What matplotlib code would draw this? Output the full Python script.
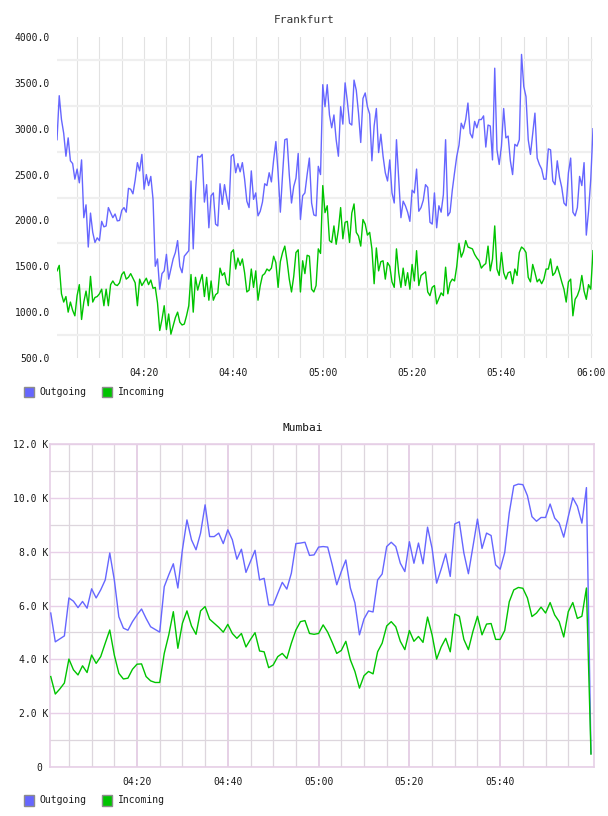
import matplotlib
matplotlib.use("Agg")
import matplotlib.pyplot as plt
import matplotlib.dates as mdates
from matplotlib.ticker import FixedLocator, FuncFormatter
from matplotlib.patches import Rectangle
import pandas as pd

plt.rcParams['font.family'] = ['DejaVu Sans Mono']

titles = ["Frankfurt", "Mumbai"]
series_names = ["Outgoing", "Incoming"]
series_colors = ["#6666ff", "#00c400"]

frankfurt_start = "2024-01-01 04:00:30"
frankfurt_step = "30s"
frankfurt_outgoing = [
    2880, 3360, 3100, 2950, 2700, 2900, 2650, 2620, 2450, 2560,
    2410, 2660, 2030, 2170, 1710, 2080, 1870, 1760, 1810, 1780,
    1990, 1930, 1940, 2140, 2085, 2030, 2070, 1995, 2000, 2110,
    2140, 2090, 2350, 2340, 2290, 2440, 2630, 2540, 2720, 2340,
    2500, 2380, 2480, 2230, 1500, 1580, 1250, 1420, 1450, 1630,
    1360, 1470, 1580, 1650, 1780, 1500, 1430, 1610, 1640, 1670,
    2430, 1690, 2300, 2700, 2690, 2720, 2200, 2390, 1920, 2270,
    2300, 1960, 1940, 2400, 2175, 2390, 2250, 2120, 2700, 2720,
    2520, 2620, 2530, 2630, 2450, 2210, 2140, 2540, 2230, 2300,
    2050, 2100, 2200, 2400, 2380, 2520, 2420, 2660, 2860, 2520,
    2090, 2500, 2880, 2890, 2500, 2190, 2370, 2460, 2730, 2010,
    2270, 2300, 2500, 2680, 2190, 2060, 2050, 2590, 2500, 3480,
    3240, 3480, 3150, 3010, 3150, 2880, 2700, 3240, 3050, 3500,
    3300, 3060, 3040, 3530, 3420, 3170, 2850, 3330, 3390, 3240,
    3160, 2650, 3030, 3220, 2740, 2940, 2700, 2520, 2430, 2660,
    2300, 2190, 2880, 2450, 2030, 2210, 2160, 2090, 1990, 2330,
    2300, 2560, 2100, 2140, 2220, 2390, 2360, 1980, 1960, 2300,
    1920, 2160, 2090, 2280, 2880, 2050, 2090, 2330, 2520, 2700,
    2820, 3060, 3000, 3100, 3280, 2950, 2900, 3080, 3010, 3100,
    3100, 3140, 2800, 3040, 3030, 2660, 3660, 2770, 2610, 2810,
    3220, 2900, 2920, 2650, 2500, 2830, 2810, 2880, 3810, 3460,
    3350, 2880, 2720, 2950, 3170, 2680, 2610, 2560, 2450, 2450,
    2780, 2770, 2430, 2390, 2650, 2470, 2360, 2190, 2160, 2520,
    2680, 2090, 2050, 2140, 2480, 2380, 2630, 1840, 2100, 2450,
    3000,
]
frankfurt_incoming = [
    1450, 1510, 1200, 1110, 1170, 1000, 1110, 1020, 960, 1180,
    1300, 920, 1110, 1230, 1070, 1390, 1110, 1160, 1170, 1200,
    1250, 1070, 1250, 1070, 1300, 1340, 1300, 1290, 1320, 1410,
    1440, 1360, 1380, 1420, 1370, 1320, 1070, 1360, 1290, 1330,
    1370, 1300, 1350, 1260, 1270, 1100, 800, 920, 1070, 810,
    980, 760, 850, 940, 1000, 890, 860, 870, 960, 1070,
    1410, 1000, 1380, 1240, 1330, 1410, 1170, 1380, 1130, 1340,
    1130, 1190, 1210, 1480, 1400, 1430, 1310, 1290, 1650, 1680,
    1470, 1590, 1510, 1580, 1430, 1220, 1240, 1470, 1270, 1450,
    1130, 1290, 1400, 1420, 1470, 1450, 1480, 1610, 1540, 1270,
    1550, 1650, 1720, 1560, 1360, 1220, 1390, 1650, 1680, 1220,
    1560, 1420, 1620, 1610, 1250, 1220, 1290, 1690, 1640, 2380,
    2085, 2160, 1780, 1760, 1940, 1740, 1900, 2140, 1800, 1980,
    1990, 1760, 2080, 2180, 1870, 1830, 1720, 2010, 1960, 1840,
    1870, 1690, 1310, 1700, 1450, 1550, 1560, 1360, 1540, 1500,
    1330, 1270, 1690, 1430, 1270, 1480, 1290, 1430, 1250, 1520,
    1340, 1670, 1290, 1400, 1420, 1440, 1220, 1180, 1270, 1290,
    1090, 1150, 1210, 1180, 1490, 1200, 1320, 1360, 1340, 1500,
    1750, 1600, 1660, 1780, 1710, 1700, 1690, 1630, 1590, 1560,
    1480, 1510, 1530, 1720, 1450, 1580, 1940, 1470, 1400, 1650,
    1430, 1360, 1430, 1440, 1310, 1470, 1400, 1650, 1710, 1690,
    1650, 1380, 1330, 1520, 1430, 1330, 1360, 1310, 1360, 1470,
    1470, 1580, 1400, 1430, 1500, 1420, 1330, 1250, 1110, 1330,
    1360, 960, 1140, 1180, 1250, 1400, 1230, 1140, 1300, 1250,
    1670,
]
frankfurt_yticks = [500, 1000, 1500, 2000, 2500, 3000, 3500, 4000]
frankfurt_ygrid = [750, 1250, 1750, 2250, 2750, 3250, 3750]

mumbai_start = "2024-01-01 04:01:00"
mumbai_step = "1min"
mumbai_outgoing = [
    5720, 4650, 4760, 4870, 6280, 6160, 5920, 6150, 5900, 6620,
    6280, 6580, 6950, 7950, 6950, 5580, 5160, 5080, 5400, 5650,
    5870, 5520, 5210, 5110, 5010, 6700, 7140, 7550, 6650, 8070,
    9180, 8440, 8070, 8690, 9740, 8560, 8560, 8690, 8300, 8810,
    8440, 7720, 8090, 7230, 7640, 8050, 6950, 7010, 6020, 6020,
    6450, 6860, 6610, 7200, 8300, 8320, 8350, 7860, 7880, 8170,
    8190, 8170, 7510, 6770, 7260, 7690, 6650, 6100, 4910, 5500,
    5800, 5760, 6950, 7170, 8190, 8350, 8190, 7570, 7260, 8370,
    7570, 8320, 7550, 8910, 8120, 6830, 7350, 7920, 7080, 9030,
    9110, 7950, 7180, 8190, 9210, 8120, 8690, 8600, 7510, 7350,
    7970, 9440, 10450, 10510, 10490, 10080, 9300, 9130, 9270, 9270,
    9770, 9250, 9060, 8540, 9300, 10000, 9690, 9060, 10380, 500,
]
mumbai_incoming = [
    3360, 2710, 2900, 3120, 4010, 3610, 3420, 3760, 3510, 4160,
    3850, 4100, 4600, 5090, 4160, 3480, 3270, 3300, 3630, 3820,
    3830, 3360, 3200, 3140, 3140, 4220, 4910, 5770, 4410, 5340,
    5800, 5240, 4930, 5800, 5960, 5490, 5340, 5190, 5010, 5300,
    4960, 4780, 4960, 4460, 4740, 4990, 4310, 4280, 3690, 3790,
    4100, 4220, 4030, 4600, 5090, 5400, 5440, 4960, 4930, 4960,
    5280, 5010, 4630, 4220, 4330, 4670, 3980, 3550, 2930, 3390,
    3550, 3460, 4280, 4600, 5240, 5400, 5210, 4670, 4360, 5070,
    4670, 4850, 4630, 5570, 4910, 4010, 4460, 4780, 4280, 5680,
    5600, 4740, 4360, 5040, 5600, 4910, 5310, 5330, 4740, 4740,
    5070, 6140, 6580, 6670, 6640, 6280, 5590, 5720, 5940, 5720,
    6110, 5650, 5400, 4830, 5770, 6110, 5520, 5600, 6650, 480,
]
mumbai_yticks = [0, 2000, 4000, 6000, 8000, 10000, 12000]
mumbai_ygrid_minor = [1000, 3000, 5000, 7000, 9000, 11000]
mumbai_xticks = ["04:20", "04:40", "05:00", "05:20", "05:40"]

W, H = 608, 816
fig = plt.figure(figsize=(W / 100, H / 100), dpi=100)
fig.patch.set_facecolor("white")


def fx(px):
    return px / W


def fy(py):
    return 1 - py / H


def axes_px(left, top, right, bottom):
    return fig.add_axes([fx(left), fy(bottom), (right - left) / W, (bottom - top) / H])


text_color = "#1a1a1a"
time_fmt = mdates.DateFormatter("%H:%M")

# ---------------- Frankfurt ----------------
n1 = min(len(frankfurt_outgoing), len(frankfurt_incoming))
t1 = pd.date_range(frankfurt_start, periods=n1, freq=frankfurt_step).to_pydatetime()
ax1 = axes_px(57, 37, 593, 358)
ax1.plot(t1, frankfurt_outgoing[:n1], color=series_colors[0], lw=1.0, zorder=3)
ax1.plot(t1, frankfurt_incoming[:n1], color=series_colors[1], lw=1.0, zorder=4)
ax1.set_ylim(500, 4000)
ax1.set_xlim(t1[0], t1[-1])
for s in ax1.spines.values():
    s.set_visible(False)
ax1.yaxis.set_major_locator(FixedLocator(frankfurt_yticks))
ax1.yaxis.set_minor_locator(FixedLocator(frankfurt_ygrid))
ax1.yaxis.set_major_formatter(FuncFormatter(lambda v, p: f"{v:.1f}"))
ax1.xaxis.set_major_locator(mdates.MinuteLocator(byminute=[0, 20, 40]))
ax1.xaxis.set_minor_locator(mdates.MinuteLocator(byminute=range(0, 60, 5)))
ax1.xaxis.set_major_formatter(time_fmt)
ax1.grid(which="minor", axis="y", color="#efefef", lw=1.6)
ax1.grid(which="both", axis="x", color="#e2e2e2", lw=0.8)
ax1.set_axisbelow(True)
ax1.tick_params(axis="both", which="both", length=0, labelsize=7, colors=text_color)
ax1.tick_params(axis="x", pad=7)
ax1.tick_params(axis="y", pad=5)

# ---------------- Mumbai ----------------
n2 = min(len(mumbai_outgoing), len(mumbai_incoming))
t2 = pd.date_range(mumbai_start, periods=n2, freq=mumbai_step).to_pydatetime()
ax2 = axes_px(50, 444, 594, 767)
ax2.plot(t2, mumbai_outgoing[:n2], color=series_colors[0], lw=1.0, zorder=3)
ax2.plot(t2, mumbai_incoming[:n2], color=series_colors[1], lw=1.0, zorder=4)
ax2.set_ylim(0, 12000)
ax2.set_xlim(pd.Timestamp("2024-01-01 04:00:50"), pd.Timestamp("2024-01-01 06:00:40"))
for s in ax2.spines.values():
    s.set_color("#e6cfe6")
    s.set_linewidth(1.2)
ax2.yaxis.set_major_locator(FixedLocator(mumbai_yticks))
ax2.yaxis.set_minor_locator(FixedLocator(mumbai_ygrid_minor))
ax2.yaxis.set_major_formatter(FuncFormatter(lambda v, p: "0 " if v == 0 else f"{v / 1000:.1f} K"))
major_x = [mdates.date2num(pd.Timestamp("2024-01-01 " + s)) for s in mumbai_xticks]
minor_x = mdates.date2num(pd.date_range("2024-01-01 04:05", "2024-01-01 05:55", freq="5min").to_pydatetime())
ax2.xaxis.set_major_locator(FixedLocator(major_x))
ax2.xaxis.set_minor_locator(FixedLocator(list(minor_x)))
ax2.xaxis.set_major_formatter(time_fmt)
ax2.grid(which="major", axis="y", color="#e8d0e8", lw=1.0)
ax2.grid(which="minor", axis="y", color="#ddd6dd", lw=0.9)
ax2.grid(which="major", axis="x", color="#e2c8e2", lw=1.2)
ax2.grid(which="minor", axis="x", color="#ddd6dd", lw=0.9)
ax2.set_axisbelow(True)
ax2.tick_params(axis="both", which="both", length=0, labelsize=7, colors=text_color)
ax2.tick_params(axis="x", pad=7)
ax2.tick_params(axis="y", pad=1)

# ---------------- titles ----------------
fig.text(fx(304), fy(20), titles[0], ha="center", va="center", fontsize=8, color="#333333")
fig.text(fx(303), fy(428), titles[1], ha="center", va="center", fontsize=8, color="#111111")

# ---------------- legends ----------------
legend_x = [24, 102]
text_x = [39, 118]
for ly in (392, 800):
    for name, col, sx, tx in zip(series_names, series_colors, legend_x, text_x):
        fig.add_artist(Rectangle((fx(sx), fy(ly + 5.5)), 10 / W, 11 / H,
                                 transform=fig.transFigure, facecolor=col,
                                 edgecolor="#8c8c8c", lw=1.0))
        fig.text(fx(tx), fy(ly), name, ha="left", va="center", fontsize=7, color=text_color)

fig.savefig("out.png", dpi=100)
